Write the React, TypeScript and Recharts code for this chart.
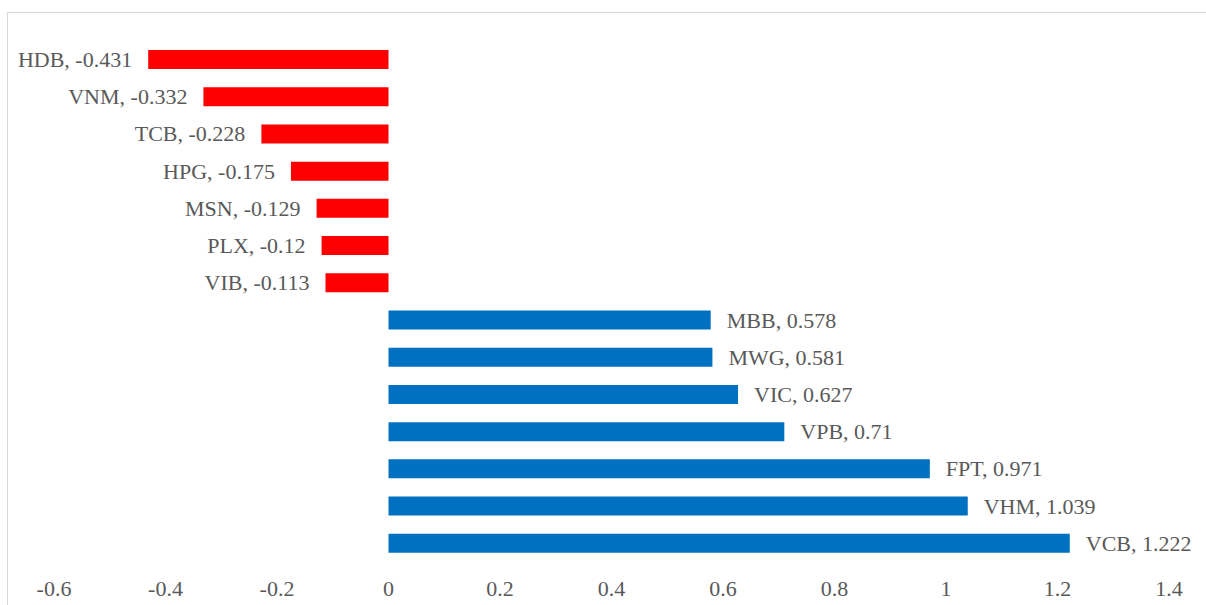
import React from 'react';
import { BarChart, Bar, XAxis, YAxis, Cell, LabelList } from 'recharts';

const tickers = ['HDB', 'VNM', 'TCB', 'HPG', 'MSN', 'PLX', 'VIB', 'MBB', 'MWG', 'VIC', 'VPB', 'FPT', 'VHM', 'VCB'];
const impacts = [-0.431, -0.332, -0.228, -0.175, -0.129, -0.12, -0.113, 0.578, 0.581, 0.627, 0.71, 0.971, 1.039, 1.222];
const xTicks = [-0.6, -0.4, -0.2, 0, 0.2, 0.4, 0.6, 0.8, 1, 1.2, 1.4];

const data = tickers.map((name, i) => ({ name, value: impacts[i] }));

const textColor = '#595959';
const fontFamily = '"Liberation Serif", "DejaVu Serif", serif';

const BarLabel = (props: any) => {
  const { x, y, width, height, value, index } = props;
  const left = Math.min(x, x + width);
  const right = Math.max(x, x + width);
  const neg = value < 0;
  return (
    <text
      x={neg ? left - 16 : right + 16}
      y={y + height / 2}
      textAnchor={neg ? 'end' : 'start'}
      dominantBaseline="central"
      fill={textColor}
      fontSize={22}
      fontFamily={fontFamily}
    >
      {`${tickers[index]}, ${value}`}
    </text>
  );
};

export default function App() {
  return (
    <div style={{ position: 'relative', width: 1206, height: 605, overflow: 'hidden', background: '#fff' }}>
      <style>{'body{margin:0;overflow:hidden}'}</style>
      <div
        style={{
          position: 'absolute',
          left: 7,
          top: 12,
          width: 1240,
          height: 640,
          border: '1px solid #d9d9d9',
        }}
      />
      <div style={{ position: 'absolute', left: 0, top: 0 }}>
        <BarChart
          width={1206}
          height={605}
          data={data}
          layout="vertical"
          margin={{ top: 41, right: 37, left: 54, bottom: 13 }}
        >
          <XAxis
            type="number"
            domain={[-0.6, 1.4]}
            ticks={xTicks}
            axisLine={false}
            tickLine={false}
            tickSize={0}
            tickMargin={18}
            height={30}
            interval={0}
            tick={{ fill: textColor, fontSize: 22, fontFamily }}
          />
          <YAxis type="category" dataKey="name" hide />
          <Bar dataKey="value" barSize={19} isAnimationActive={false}>
            {data.map((d) => (
              <Cell key={d.name} fill={d.value < 0 ? '#FF0000' : '#0070C0'} />
            ))}
            <LabelList dataKey="value" content={BarLabel} />
          </Bar>
        </BarChart>
      </div>
    </div>
  );
}
